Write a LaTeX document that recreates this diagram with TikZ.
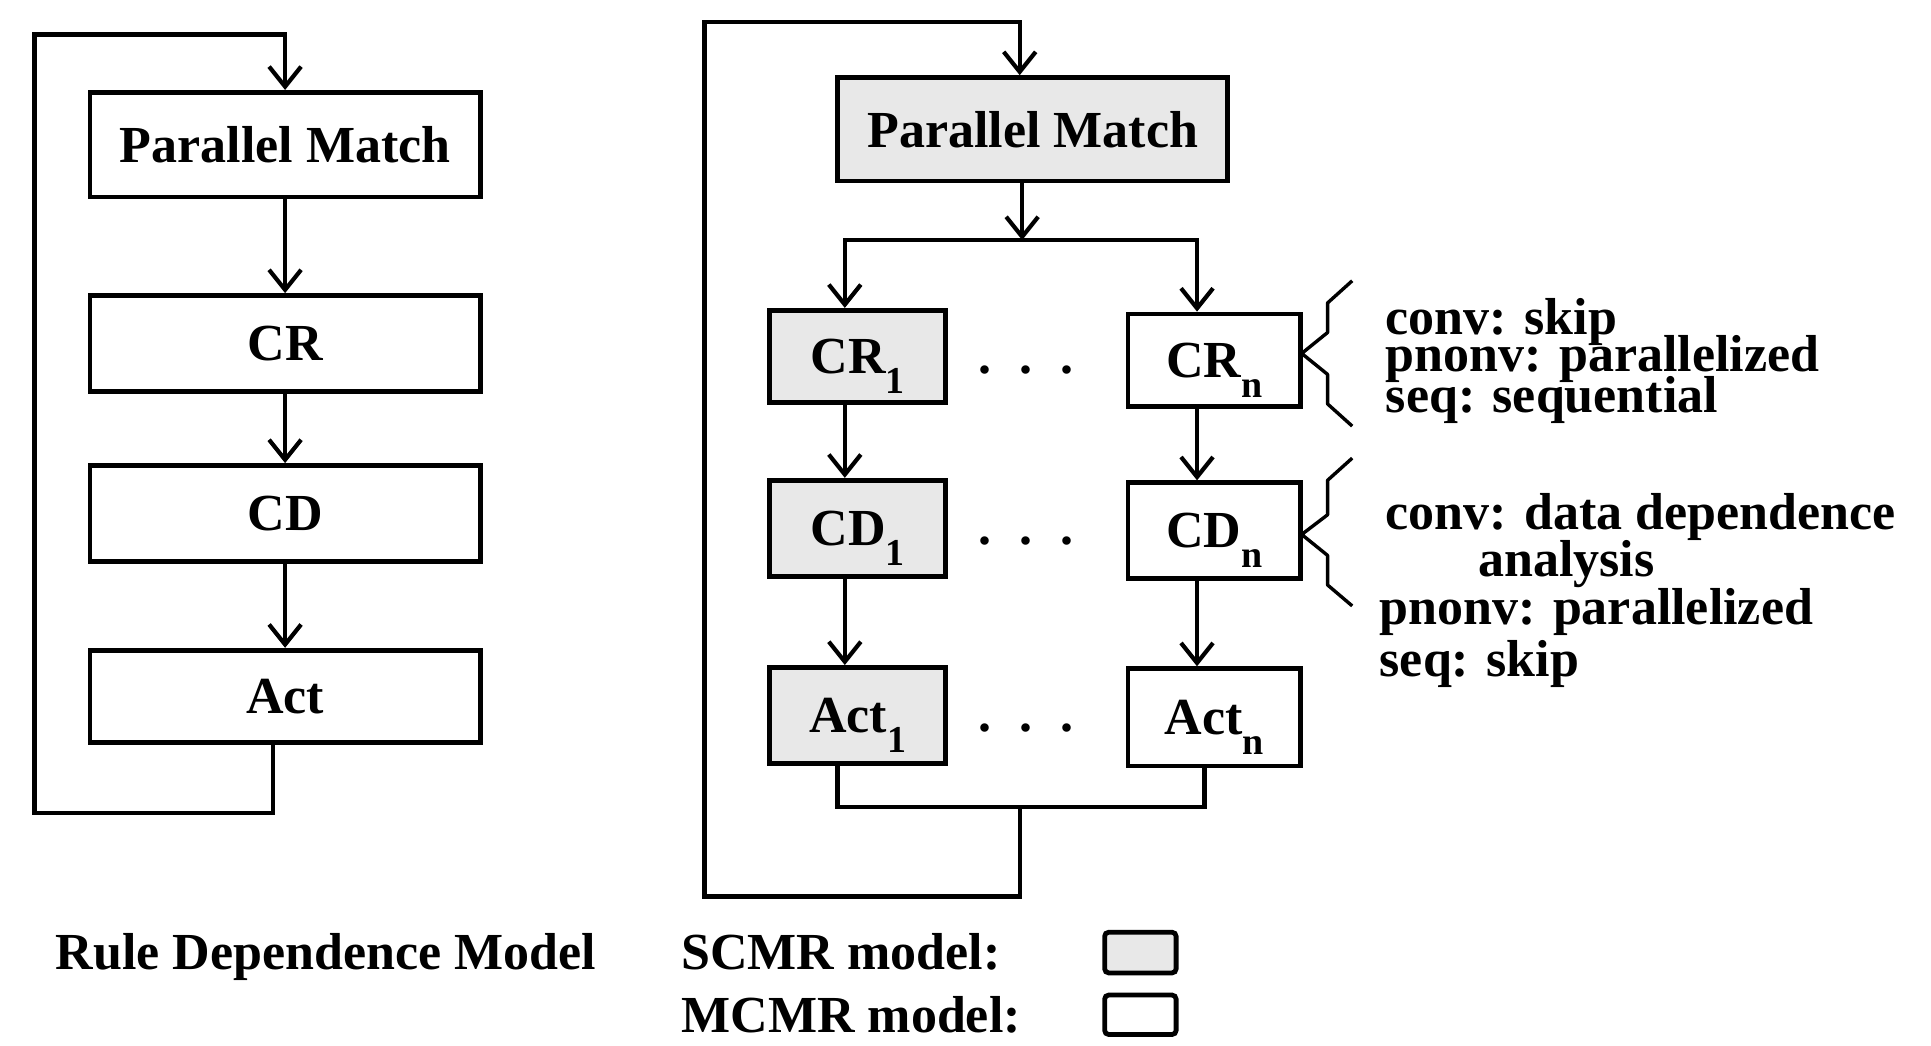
\documentclass[tikz,border=0pt]{standalone}
\usepackage{fontspec}
\setmainfont{Liberation Serif}
\usetikzlibrary{arrows.meta,calc}
\newcommand\lowidx[1]{\raisebox{-10pt}[0pt][0pt]{\fontsize{19}{19}\selectfont #1}}
\begin{document}
\begin{tikzpicture}[x=0.61575pt,y=-0.61575pt,
 font=\fontsize{26}{20}\selectfont\bfseries,
 blk/.style={draw,line width=2.4pt,inner sep=0pt},
 sz/.style 2 args={minimum width={#1*0.61575pt},minimum height={#2*0.61575pt}},
 shaded/.style={fill=black!9},
 conn/.style={line width=2.1pt},
 arr/.style={conn,-{Straight Barb[length=10pt,width=16pt]}},
 brace/.style={line width=1.7pt,line join=round},
 note/.style={anchor=base west,inner sep=0pt}]
\useasboundingbox (0,0) rectangle (1568,849);

% ---------- left diagram ----------
\node[blk,sz={317}{85}] (lpm) at (231.5,117.5) {Parallel Match};
\node[blk,sz={317}{78}] (lcr) at (231.5,279) {CR};
\node[blk,sz={317}{78}] (lcd) at (231.5,417) {CD};
\node[blk,sz={317}{75}] (lact) at (231.5,565.5) {Act};
\coordinate (lbl) at (28,660);
\coordinate (ltl) at (28,28);
\coordinate (lout) at (222,0);
\draw[arr] (lpm) -- (lcr);
\draw[arr] (lcr) -- (lcd);
\draw[arr] (lcd) -- (lact);
\draw[arr] (lout |- lact.south) -- (lout |- lbl) -- (lbl) -- (ltl) -- (ltl -| lpm.north) -- (lpm.north);

% ---------- right diagram ----------
\node[blk,shaded,sz={317}{84}] (rpm) at (838.5,105) {Parallel Match};
\node[blk,shaded,sz={143}{75}] (cr1) at (696.5,289.5) {CR\lowidx{1}};
\node[blk,sz={140}{75}] (crn) at (986,292.5) {CR\lowidx{n}};
\node[blk,shaded,sz={143}{78}] (cd1) at (696.5,429) {CD\lowidx{1}};
\node[blk,sz={140}{78}] (cdn) at (986,431) {CD\lowidx{n}};
\node[blk,shaded,sz={143}{78}] (act1) at (696.5,581) {Act\lowidx{1}};
\node[blk,sz={140}{79}] (actn) at (986,582.5) {Act\lowidx{n}};

\node[anchor=base] (d1) at (833,303) {.\hspace{14pt}.\hspace{14pt}.};
\node[anchor=base] (d2) at (833,442) {.\hspace{14pt}.\hspace{14pt}.};
\node[anchor=base] (d3) at (833,594) {.\hspace{14pt}.\hspace{14pt}.};

\coordinate (rtop) at (828,18);
\coordinate (rtl) at (572,18);
\coordinate (rbl) at (572,728);
\coordinate (rbm) at (828,728);
\coordinate (split) at (830,195);
\coordinate (merge) at (828,655);
\coordinate (c1) at (686,0);
\coordinate (c2) at (972,0);
\coordinate (m1) at (680,0);
\coordinate (m2) at (978,0);

\draw[arr] (split |- rpm.south) -- (split);
\draw[arr] (split) -| (c1 |- cr1.north);
\draw[arr] (split) -| (c2 |- crn.north);
\draw[arr] (c1 |- cr1.south) -- (c1 |- cd1.north);
\draw[arr] (c2 |- crn.south) -- (c2 |- cdn.north);
\draw[arr] (c1 |- cd1.south) -- (c1 |- act1.north);
\draw[arr] (c2 |- cdn.south) -- (c2 |- actn.north);
\draw[conn] (m1 |- act1.south) -- (m1 |- merge) -- (m2 |- merge) -- (m2 |- actn.south);
\draw[arr] (merge) -- (rbm) -- (rbl) -- (rtl) -- (rtop) -- (rtop |- rpm.north);

% ---------- braces and notes ----------
\draw[brace] (1098,228) -- (1078,246) -- (1078,270) -- (1057,287) -- (1078,304) -- (1078,328) -- (1098,346);
\draw[brace] (1098,372) -- (1078,390) -- (1078,418) -- (1057,434) -- (1078,451) -- (1078,475) -- (1098,492);

\node[note] (n1) at (1125,272) {conv: skip};
\node[note] (n2) at (1125,302) {pnonv: parallelized};
\node[note] (n3) at (1125,335) {seq: sequential};
\node[note] (n4) at (1125,430) {conv: data dependence};
\node[anchor=base,inner sep=0pt] (n5) at (1272,468) {analysis};
\node[note] (n6) at (1120,507) {pnonv: parallelized};
\node[note] (n7) at (1120,549) {seq: skip};

% ---------- legend ----------
\node[note] (leg) at (45,787) {Rule Dependence Model};
\node[note] (scmr) at (553,787) {SCMR model:};
\node[note] (mcmr) at (553,838) {MCMR model:};
\node[blk,shaded,rounded corners=2pt,sz={58}{33}] (sbox) at (926,773.5) {};
\node[blk,rounded corners=2pt,sz={58}{32}] (mbox) at (926,824) {};
\end{tikzpicture}
\end{document}
